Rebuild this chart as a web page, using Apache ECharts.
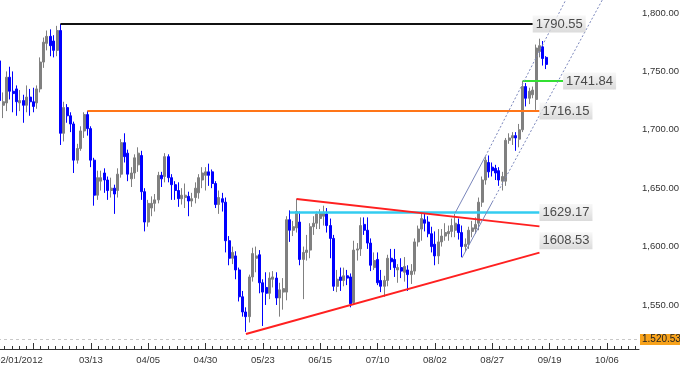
<!DOCTYPE html>
<html><head><meta charset="utf-8">
<script src="https://cdn.jsdelivr.net/npm/echarts@6/dist/echarts.min.js"></script>
<style>html,body{margin:0;padding:0;background:#fff}#c{width:680px;height:367px}</style>
</head><body><div id="c"></div>
<script>
// ---- data ----
const startDate = '2012-02-03';
const open  = [1759,1721,1723,1745,1733,1735,1723,1725,1721,1728,1724,1723,1735,1758,1774,1780,1776,1768,1785,1697,1719,1712,1705,1674,1684,1699,1713,1701,1674,1644,1656,1663,1657,1648,1650,1648,1662,1689,1680,1658,1663,1670,1678,1647,1621,1633,1637,1640,1661,1660,1677,1659,1653,1648,1641,1642,1643,1639,1642,1646,1657,1661,1664,1664,1654,1636,1641,1638,1605,1590,1592,1580,1557,1544,1540,1574,1590,1593,1569,1565,1560,1572,1573,1556,1561,1561,1623,1614,1616,1621,1589,1595,1597,1617,1620,1624,1626,1628,1618,1607,1566,1574,1571,1575,1574,1552,1597,1598,1619,1614,1603,1582,1589,1571,1566,1571,1590,1589,1580,1582,1578,1580,1576,1579,1604,1615,1623,1621,1611,1602,1592,1604,1609,1611,1613,1614,1619,1612,1600,1602,1613,1615,1620,1638,1657,1672,1668,1667,1665,1656,1656,1691,1693,1695,1692,1700,1737,1727,1730,1726,1767,1771,1762];
const close = [1725,1724,1745,1733,1731,1724,1725,1721,1728,1724,1720,1735,1758,1775,1780,1772,1768,1785,1697,1719,1712,1705,1674,1684,1699,1713,1701,1674,1644,1659,1659,1657,1648,1650,1645,1662,1689,1677,1662,1663,1676,1680,1647,1621,1637,1637,1640,1661,1658,1677,1659,1653,1648,1641,1644,1644,1639,1641,1650,1659,1663,1664,1661,1654,1636,1642,1638,1605,1590,1595,1580,1557,1544,1540,1574,1594,1592,1569,1561,1560,1573,1574,1556,1563,1564,1623,1614,1617,1630,1589,1595,1597,1617,1620,1628,1629,1629,1618,1607,1566,1572,1571,1575,1573,1551,1597,1598,1618,1614,1603,1584,1588,1569,1566,1571,1590,1587,1582,1582,1579,1583,1576,1579,1604,1615,1624,1620,1611,1600,1592,1604,1609,1612,1613,1618,1620,1612,1600,1602,1614,1616,1619,1638,1657,1674,1664,1665,1663,1657,1660,1691,1693,1695,1693,1700,1737,1727,1733,1734,1770,1772,1761,1756];
const low   = [1718,1710,1716,1726,1715,1712,1716,1706,1715,1712,1715,1718,1732,1753,1768,1763,1762,1763,1687,1690,1706,1698,1663,1671,1682,1693,1695,1668,1635,1640,1648,1646,1640,1642,1628,1642,1659,1672,1656,1651,1658,1664,1640,1613,1617,1626,1630,1637,1651,1655,1655,1640,1640,1634,1636,1633,1626,1634,1637,1641,1650,1648,1652,1650,1633,1628,1630,1595,1584,1585,1572,1553,1540,1527,1535,1570,1578,1560,1532,1550,1555,1565,1550,1540,1546,1554,1604,1609,1612,1584,1555,1588,1590,1610,1615,1615,1618,1612,1590,1562,1561,1562,1566,1567,1548,1550,1588,1592,1610,1598,1579,1580,1567,1561,1557,1566,1580,1574,1569,1573,1570,1562,1568,1576,1600,1605,1613,1608,1595,1584,1585,1600,1605,1605,1608,1608,1606,1591,1596,1598,1608,1611,1614,1634,1653,1659,1660,1657,1652,1648,1652,1688,1687,1682,1685,1698,1720,1722,1727,1717,1762,1755,1752];
const high  = [1762,1732,1750,1754,1750,1738,1734,1730,1738,1735,1736,1738,1762,1779,1785,1786,1781,1789,1790.55,1724,1722,1715,1707,1688,1703,1715,1716.15,1703,1676,1665,1665,1667,1660,1659,1653,1667,1692,1697,1683,1668,1679,1685,1682,1650,1640,1643,1645,1664,1664,1680,1679,1662,1656,1655,1650,1654,1647,1646,1655,1662,1668,1668,1671,1666,1656,1648,1646,1642,1609,1600,1596,1582,1562,1548,1576,1599,1600,1597,1572,1578,1578,1579,1578,1569,1573,1626,1631,1622,1641,1630,1600,1610,1620,1626,1630,1632,1635,1633,1624,1610,1580,1582,1582,1580,1577,1605,1603,1625,1625,1625,1607,1595,1595,1580,1575,1593,1598,1598,1585,1590,1591,1584,1585,1607,1618,1628,1628,1626,1617,1613,1615,1615,1620,1618,1624,1628,1624,1618,1607,1617,1622,1625,1642,1660,1677,1678,1672,1670,1668,1664,1693,1697,1698,1698,1705,1741.84,1740,1736,1737,1773,1778,1776,1763];

const tickDates  = ['2012-02-17','2012-03-13','2012-04-05','2012-04-30','2012-05-23','2012-06-15','2012-07-10','2012-08-02','2012-08-27','2012-09-19','2012-10-12'];
const tickLabels = ['02/01/2012','03/13','04/05','04/30','05/23','06/15','07/10','08/02','08/27','09/19','10/06'];
const priceTicks = [1550,1600,1650,1700,1750,1800];
const lastPrice = 1755.95;
const lowMark = 1520.53;

// annotation lines: [startDate, startValue, endDate, endValue]
const blackLevel  = ['2012-02-29',1790.55,'2012-09-12',1790.55];
const orangeLevel = ['2012-03-12',1716.15,'2012-09-14',1716.15];
const greenLevel  = ['2012-09-07',1741.84,'2012-09-25',1741.84];
const cyanLevel   = ['2012-06-04',1629.17,'2012-09-14',1629.17];
const redUpper    = ['2012-06-06',1640.8,'2012-09-14',1617.3];
const redLower    = ['2012-05-16',1525.2,'2012-09-14',1594.8];
const chanUpperSolid  = ['2012-08-10',1628.8,'2012-08-23',1677.4];
const chanUpperDotted = ['2012-08-23',1677.4,'2012-09-27',1818.0];
const chanLowerSolid  = ['2012-08-14',1590.2,'2012-08-27',1638.0];
const chanLowerDotted = ['2012-08-27',1638.0,'2012-10-11',1813.2];

const annTexts  = ['1790.55','1741.84','1716.15','1629.17','1608.53'];
const annDates  = ['2012-09-12','2012-09-25','2012-09-14','2012-09-14','2012-09-14'];
const annValues = [1790.55,1741.84,1716.15,1629.17,1605];

// ---- build ----
function weekdays(start, n){
  const out=[]; const d=new Date(start+'T00:00:00Z');
  while(out.length<n){ const w=d.getUTCDay(); if(w!==0&&w!==6) out.push(d.toISOString().slice(0,10)); d.setUTCDate(d.getUTCDate()+1); }
  return out;
}
const cats = weekdays(startDate, 190);
const candles = open.map((o,i)=>[o, close[i], low[i], high[i]]);

const majorIdx = tickDates.map(d=>cats.indexOf(d));
const minorIdx = [];
const step = (majorIdx[1]-majorIdx[0])/8;
for (let v = majorIdx[0]; v >= -0.5; v -= step) minorIdx.push(v);
for (let v = majorIdx[0]+step; v <= cats.length-0.5; v += step) minorIdx.push(v);
const labelMap = {}; majorIdx.forEach((k,i)=>labelMap[k]=tickLabels[i]);

const yMax = 1811.13, yMin = 1512.3;
const minorPrice = []; for (let v=1520; v<=1810; v+=10) if (v%50) minorPrice.push(v);

const FONT = 'Liberation Sans, Arial, sans-serif';
const grad = new echarts.graphic.LinearGradient(0,0,0,1,[{offset:0,color:'#f6f6f6'},{offset:1,color:'#d2d2d2'}]);

function seg(a, color, width, type){
  return {type:'line', xAxisIndex:0, yAxisIndex:0, data:[[a[0],a[1]],[a[2],a[3]]], symbol:'none', silent:true,
    clip:true, lineStyle:{color, width, type: type||'solid'}, z:5};
}

const fmt = v => v.toLocaleString('en-US',{minimumFractionDigits:2, maximumFractionDigits:2});

const option = {
  animation:false,
  backgroundColor:'#fff',
  grid:{left:-2, right:41, top:0, bottom:18, containLabel:false, outerBoundsMode:'none'},
  xAxis:[
    {type:'category', data:cats, boundaryGap:true, axisLine:{show:true,onZero:false,lineStyle:{color:'#333',width:1}},
     axisTick:{show:false}, axisLabel:{show:false}, splitLine:{show:false}},
    {type:'value', min:-0.5, max:cats.length-0.5, position:'bottom', axisLine:{show:false},
     axisTick:{show:true, inside:true, length:6, customValues:majorIdx, lineStyle:{color:'#333'}},
     axisLabel:{show:true, customValues:majorIdx, margin:6, fontFamily:FONT, fontSize:9.5, color:'#333',
       formatter:v=>{ const t=labelMap[Math.round(v)]; return Math.round(v)===majorIdx[0] ? '{f|'+t+'}' : t; },
       rich:{f:{fontFamily:FONT, fontSize:9.5, color:'#333', padding:[0,29,0,0]}}},
     splitLine:{show:false}},
    {type:'value', min:-0.5, max:cats.length-0.5, position:'bottom', axisLine:{show:false},
     axisTick:{show:true, inside:true, length:3, customValues:minorIdx, lineStyle:{color:'#333'}},
     axisLabel:{show:false}, splitLine:{show:false}}
  ],
  yAxis:[
    {type:'value', position:'right', min:yMin, max:yMax, axisLine:{show:true, lineStyle:{color:'#333'}},
     axisTick:{show:true, inside:true, length:10, customValues:priceTicks, lineStyle:{color:'#333'}},
     axisLabel:{show:true, customValues:priceTicks, margin:3, fontFamily:FONT, fontSize:9.5, color:'#333', formatter:fmt},
     splitLine:{show:false}},
    {type:'value', position:'right', min:yMin, max:yMax, axisLine:{show:false},
     axisTick:{show:true, inside:true, length:4, customValues:minorPrice, lineStyle:{color:'#333'}},
     axisLabel:{show:false}, splitLine:{show:false}}
  ],
  series:[
    {type:'candlestick', xAxisIndex:0, yAxisIndex:0, data:candles, barWidth:2.5,
     itemStyle:{color:'#808080', color0:'#0000ff', borderColor:'#808080', borderColor0:'#0000ff', borderWidth:1},
     markLine:{silent:true, symbol:'none', animation:false,
       data:[
         {yAxis:lowMark, lineStyle:{color:'#c8c8c8', type:[3,3], width:1},
          label:{show:true, position:'end', distance:1, formatter:'1.520.53', fontFamily:FONT, fontSize:10, color:'#222',
                 backgroundColor:'#f7a21b', padding:[1,2,0,2]}},
         {yAxis:lastPrice, lineStyle:{opacity:0},
          label:{show:true, position:'end', distance:1, formatter:fmt(lastPrice), fontFamily:FONT, fontSize:10, color:'#222',
                 backgroundColor:'#6ecbf3', padding:[1,2,0,2]}}
       ]}},
    seg(blackLevel,'#111',2),
    seg(orangeLevel,'#ff7518',2),
    seg(greenLevel,'#33e033',2),
    seg(cyanLevel,'#33ccf0',2.5),
    seg(redUpper,'#ff2020',2),
    seg(redLower,'#ff2020',2),
    seg(chanUpperSolid,'#7a86bb',1),
    seg(chanUpperDotted,'#7a86bb',1,[2,2]),
    seg(chanLowerSolid,'#7a86bb',1),
    seg(chanLowerDotted,'#7a86bb',1,[2,2]),
    {type:'scatter', xAxisIndex:0, yAxisIndex:0, symbolSize:0, silent:true, z:10,
     data:annDates.map((d,i)=>({value:[d,annValues[i]], label:{formatter:annTexts[i]}})),
     label:{show:true, position:'right', distance:0, fontFamily:FONT, fontSize:13, color:'#222',
            backgroundColor:grad, padding:[2,3,1,3], lineHeight:14}}
  ]
};
echarts.init(document.getElementById('c'), null, {renderer:'canvas'}).setOption(option);
</script></body></html>
